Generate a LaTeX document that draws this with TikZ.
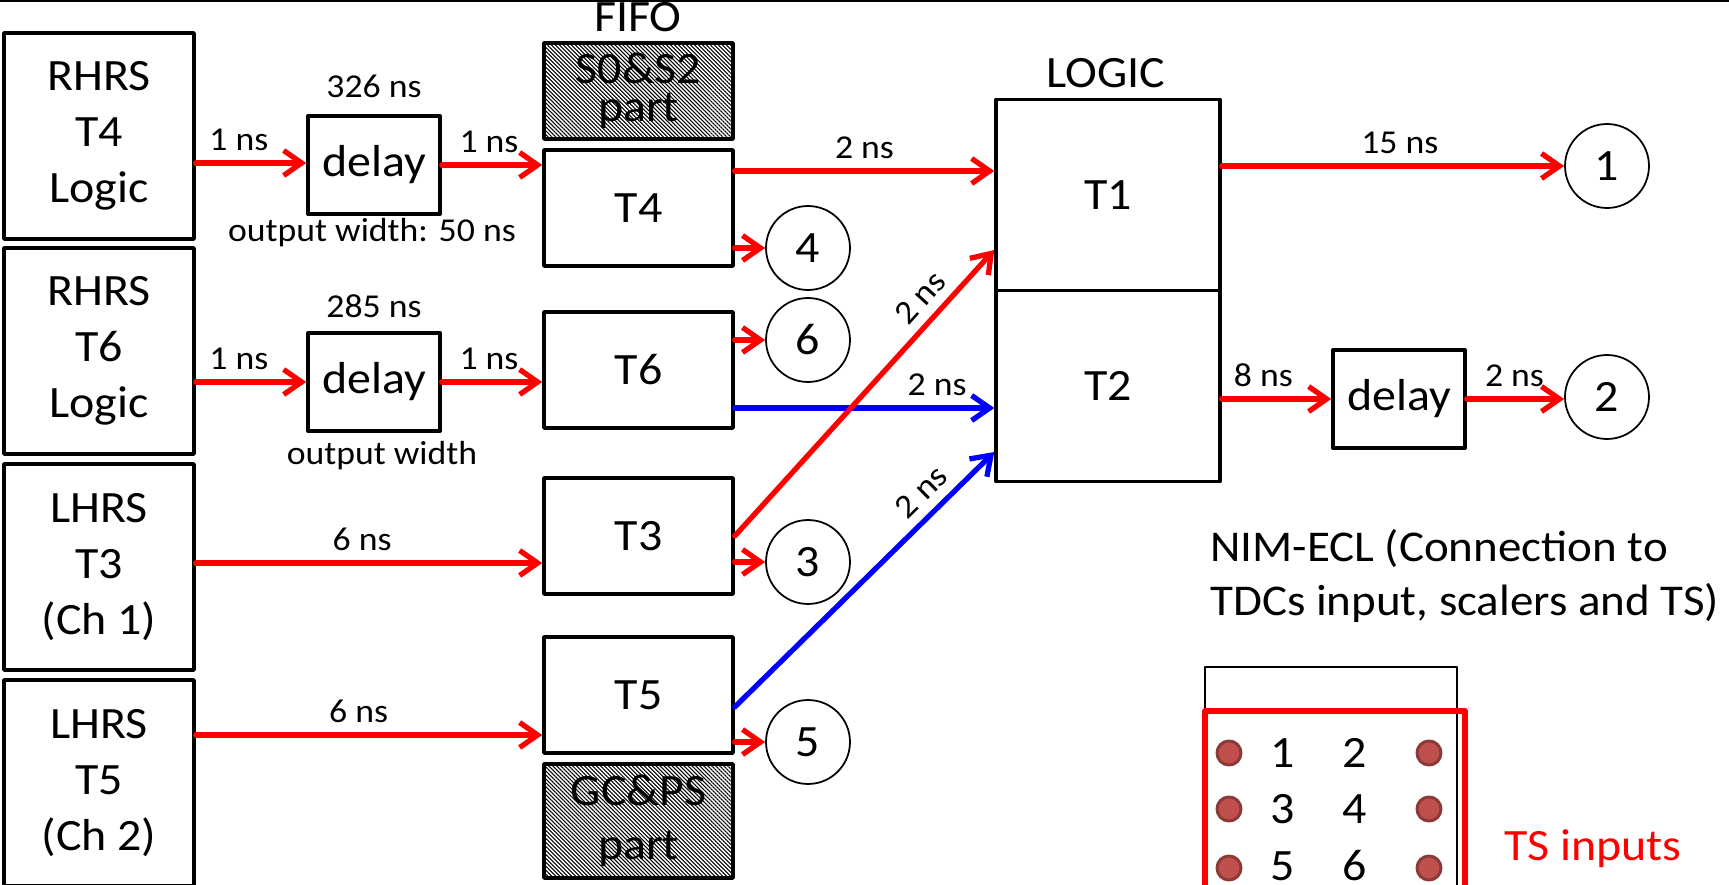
\documentclass[tikz,border=0pt]{standalone}
\usepackage{fontspec}
\setmainfont{Carlito}[FakeStretch=1.07]
\usetikzlibrary{arrows.meta,calc,patterns.meta}
\definecolor{pinfill}{HTML}{C0504D}
\definecolor{pinline}{HTML}{8C3A38}
\newcommand{\bigtxt}{\fontsize{25.5}{32}\selectfont}
\newcommand{\smalltxt}{\fontsize{19}{23}\selectfont}
\tikzset{
  srcbox/.style={draw, line width=2pt, minimum width=3.8cm, minimum height=4.12cm, inner sep=0pt, align=center, font=\bigtxt},
  dlybox/.style={draw, line width=2pt, minimum width=2.64cm, minimum height=1.97cm, inner sep=0pt, font=\bigtxt},
  fifobox/.style={draw, line width=2pt, minimum width=3.78cm, minimum height=2.32cm, inner sep=0pt, font=\bigtxt},
  hatchbox/.style={draw, line width=2pt, minimum width=3.78cm, inner sep=0pt, align=center,
    pattern={Lines[angle=-45, distance=1.6pt, line width=0.6pt]}},
  logicbox/.style={draw, line width=2pt, minimum width=4.48cm, minimum height=3.82cm, inner sep=0pt, font=\bigtxt},
  outc/.style={circle, draw, line width=1pt, minimum size=1.68cm, inner sep=0pt, font=\bigtxt},
  pin/.style={circle, draw=pinline, fill=pinfill, line width=1.7pt, minimum size=0.48cm, inner sep=0pt},
  lbl/.style={font=\smalltxt},
  rarr/.style={draw=red, line width=3pt, -{Straight Barb[length=0.36cm, width=0.5cm]}},
  barr/.style={draw=blue, line width=3pt, -{Straight Barb[length=0.36cm, width=0.5cm]}},
  every picture/.style={line cap=round, line join=round}
}

\begin{document}
\begin{tikzpicture}[x=0.02cm, y=-0.02cm]
  \useasboundingbox (0,0) rectangle (1729,885);
  \clip (0,0) rectangle (1729,885);
  \draw[line width=1.2pt] (0,1) -- (1729,1);

  \node[srcbox] (r4) at (99,136) {RHRS\\T4\\Logic};
  \node[srcbox] (r6) at (99,351) {RHRS\\T6\\Logic};
  \node[srcbox] (l3) at (99,567) {LHRS\\T3\\(Ch 1)};
  \node[srcbox] (l5) at (99,783) {LHRS\\T5\\(Ch 2)};

  \node[dlybox] (d4) at (374,165) {delay};
  \node[dlybox] (d6) at (374,382) {delay};
  \node[dlybox] (d2) at (1399,399) {delay};

  \node[hatchbox, minimum height=1.92cm, font={\fontsize{25.5}{21.5}\selectfont}] (s02) at (638.5,91) {S0\&S2\\part};
  \node[fifobox] (t4) at (638.5,208) {T4};
  \node[fifobox] (t6) at (638.5,370) {T6};
  \node[fifobox] (t3) at (638.5,536) {T3};
  \node[fifobox] (t5) at (638.5,695) {T5};
  \node[hatchbox, minimum height=2.28cm, font={\fontsize{25.5}{31}\selectfont}] (gcps) at (638.5,821) {GC\&PS\\part};

  \node[logicbox] (t1) at (1108,195) {T1};
  \node[logicbox] (t2) at (1108,386) {T2};

  \foreach \name/\x/\y/\num in {c1/1607/166/1, c2/1607/397/2, c4/808/248/4,
      c6/808/340/6, c3/808/562/3, c5/808/742/5}
  {
    \node[outc] (\name) at (\x,\y) {\num};
  }

  \node[font=\bigtxt, anchor=base] (fifo) at (638,32) {FIFO};
  \node[font=\bigtxt, anchor=base] (logic) at (1106,88) {LOGIC};
  \node[lbl, anchor=base] (w4) at (374,98) {326 ns};
  \node[lbl, anchor=base] (o4) at (372,242) {output width: 50 ns};
  \node[lbl, anchor=base] (w6) at (374,318) {285 ns};
  \node[lbl, anchor=base] (o6) at (382,464) {output width};

  \draw[rarr] (r4.east |- 0,163) -- (d4.west |- 0,163) node[lbl, pos=0.39, above=2pt] (e1) {1 ns};
  \draw[rarr] (d4.east) -- (d4.east -| t4.west) node[lbl, pos=0.47, above=2pt] (e2) {1 ns};
  \draw[rarr] (r6.east |- d6.west) -- (d6.west) node[lbl, pos=0.39, above=2pt] (e3) {1 ns};
  \draw[rarr] (d6.east) -- (d6.east -| t6.west) node[lbl, pos=0.47, above=2pt] (e4) {1 ns};
  \draw[rarr] (l3.east |- 0,563) -- (t3.west |- 0,563) node[lbl, pos=0.48, above=2pt] (e5) {6 ns};
  \draw[rarr] (l5.east |- 0,735) -- (t5.west |- 0,735) node[lbl, pos=0.47, above=2pt] (e6) {6 ns};

  \draw[rarr] (t4.east |- 0,171) -- (t1.west |- 0,171) node[lbl, midway, above=2pt] (e7) {2 ns};
  \draw[rarr] (c4.west -| t4.east) -- (c4.west);
  \draw[rarr] (c6.west -| t6.east) -- (c6.west);
  \draw[barr] (t6.east |- 0,408) -- (t2.west |- 0,408) node[lbl, pos=0.78, above=2pt] (e8) {2 ns};
  \draw[rarr] (t3.east) -- (t1.west |- 0,250) node[lbl, pos=0.78, sloped, above=2pt] (e9) {2 ns};
  \draw[rarr] (c3.west -| t3.east) -- (c3.west);
  \draw[barr] (t5.east |- 0,707) -- (t2.west |- 0,452) node[lbl, pos=0.78, sloped, above=2pt] (e10) {2 ns};
  \draw[rarr] (c5.west -| t5.east) -- (c5.west);

  \draw[rarr] (c1.west -| t1.east) -- (c1.west) node[lbl, pos=0.52, above=2pt] (e11) {15 ns};
  \draw[rarr] (d2.west -| t2.east) -- (d2.west) node[lbl, pos=0.38, above=2pt] (e12) {8 ns};
  \draw[rarr] (d2.east) -- (d2.east -| c2.west) node[lbl, pos=0.49, above=2pt] (e13) {2 ns};

  \node[font={\fontsize{25}{31}\selectfont}, align=left, anchor=north west, inner sep=0pt] (nim) at (1210,529)
    {NIM-ECL (Connection to\\TDCs input, scalers and TS)};
  \draw[line width=1.6pt] (1205,667) rectangle (1457,920);
  \draw[red, line width=3pt] (1205,711) rectangle (1465,920);
  \foreach \y in {753,809,868}
  {
    \node[pin] (pl\y) at (1229,\y) {};
    \node[pin] (pr\y) at (1429,\y) {};
  }
  \foreach \a/\b/\y in {1/2/753, 3/4/809, 5/6/866}
  {
    \node[font=\bigtxt, inner sep=0pt] (n\a) at (1283,\y) {\a};
    \node[font=\bigtxt, inner sep=0pt] (n\b) at (1355,\y) {\b};
  }
  \node[font=\bigtxt, text=red, anchor=base] (tsin) at (1593,860) {TS inputs};
\end{tikzpicture}
\end{document}
